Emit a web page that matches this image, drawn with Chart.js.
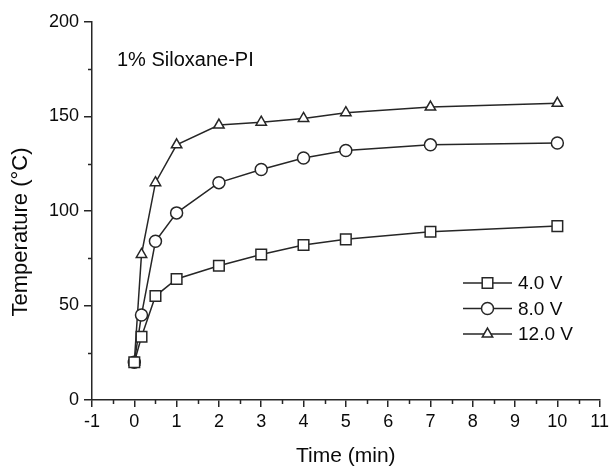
<!DOCTYPE html>
<html>
<head>
<meta charset="utf-8">
<script src="https://cdn.jsdelivr.net/npm/chart.js@4/dist/chart.umd.min.js"></script>
<style>
html,body{margin:0;padding:0;background:#fff;}
#wrap{width:613px;height:469px;position:relative;}
</style>
</head>
<body>
<div id="wrap"><canvas id="c" width="613" height="469"></canvas></div>
<script>
const times = [0, 0.17, 0.5, 1, 2, 3, 4, 5, 7, 10];
const series4V  = [20, 33.5, 55, 64, 71, 77, 82, 85, 89, 92];
const series8V  = [20, 45, 84, 99, 115, 122, 128, 132, 135, 136];
const series12V = [20, 77, 115, 135, 145.5, 147, 149, 152, 155, 157];
const seriesLabels = ['4.0 V', '8.0 V', '12.0 V'];
const markerStyles = ['rect', 'circle', 'triangle'];
const markerRadii = [7.5, 6, 6];
const xTickRange = [-1, 11];
const yTickRange = [0, 200];
const annotationText = '1% Siloxane-PI';
const xTitle = 'Time (min)';
const yTitle = 'Temperature (°C)';

const INK = '#262626';
const TXT = '#0a0a0a';
const FONT = 'Liberation Sans, Arial, sans-serif';

function toPoints(vals){ return vals.map((v,i)=>({x:times[i], y:v})); }

const allSeries = [series4V, series8V, series12V];
const datasets = allSeries.map((s,i)=>({
  label: seriesLabels[i],
  data: toPoints(s),
  borderColor: INK,
  borderWidth: 1.5,
  pointStyle: markerStyles[i],
  pointRadius: markerRadii[i],
  pointBackgroundColor: '#fff',
  pointBorderColor: INK,
  pointBorderWidth: 1.5,
  tension: 0,
  fill: false
}));

function drawMarker(ctx, style, x, y, r){
  ctx.beginPath();
  if (style === 'rect'){
    const s = Math.SQRT1_2 * r;
    ctx.rect(x - s, y - s, 2*s, 2*s);
  } else if (style === 'circle'){
    ctx.arc(x, y, r, 0, Math.PI*2);
  } else {
    let rad = 0;
    ctx.moveTo(x + Math.sin(rad)*r, y - Math.cos(rad)*r);
    rad += 2*Math.PI/3;
    ctx.lineTo(x + Math.sin(rad)*r, y - Math.cos(rad)*r);
    rad += 2*Math.PI/3;
    ctx.lineTo(x + Math.sin(rad)*r, y - Math.cos(rad)*r);
    ctx.closePath();
  }
  ctx.fillStyle = '#fff';
  ctx.fill();
  ctx.stroke();
}

const extras = {
  id: 'extras',
  afterDraw(chart){
    const ctx = chart.ctx;
    const xs = chart.scales.x, ys = chart.scales.y;
    ctx.save();
    ctx.strokeStyle = INK;
    ctx.lineWidth = 1.5;
    // minor ticks
    ctx.beginPath();
    for (let v = xTickRange[0] + 0.5; v < xTickRange[1]; v += 1){
      const px = Math.round(xs.getPixelForValue(v)) + 0.5;
      ctx.moveTo(px, xs.top);
      ctx.lineTo(px, xs.top + 4);
    }
    for (let v = yTickRange[0] + 25; v < yTickRange[1]; v += 50){
      const py = Math.round(ys.getPixelForValue(v)) + 0.5;
      ctx.moveTo(ys.right, py);
      ctx.lineTo(ys.right - 4, py);
    }
    ctx.stroke();
    // y title
    ctx.save();
    ctx.translate(21, 232);
    ctx.rotate(-Math.PI/2);
    ctx.fillStyle = TXT;
    ctx.font = '22px ' + FONT;
    ctx.textAlign = 'center';
    ctx.textBaseline = 'middle';
    ctx.fillText(yTitle, 0, 0);
    ctx.restore();
    // annotation
    ctx.fillStyle = TXT;
    ctx.font = '20px ' + FONT;
    ctx.textBaseline = 'middle';
    ctx.textAlign = 'left';
    ctx.fillText(annotationText, 117, 60);
    // legend
    const lx0 = 463, lx1 = 512, ly0 = 283, dy = 25.5;
    chart.data.datasets.forEach((ds, i)=>{
      const y = ly0 + i*dy;
      ctx.beginPath();
      ctx.moveTo(lx0, y); ctx.lineTo(lx1, y);
      ctx.stroke();
      drawMarker(ctx, ds.pointStyle, (lx0+lx1)/2, y, ds.pointRadius);
      ctx.fillStyle = TXT;
      ctx.font = '19px ' + FONT;
      ctx.fillText(ds.label, 518, y + 1);
    });
    ctx.restore();
  }
};

new Chart(document.getElementById('c'), {
  type: 'line',
  data: { datasets },
  options: {
    responsive: false,
    animation: false,
    devicePixelRatio: 1,
    layout: { padding: { top: 22, right: 10, left: 0, bottom: 0 } },
    plugins: { legend: { display: false }, tooltip: { enabled: false } },
    scales: {
      x: {
        type: 'linear',
        min: xTickRange[0], max: xTickRange[1],
        ticks: { stepSize: 1, color: TXT, font: { family: FONT, size: 18 }, padding: 4, maxRotation: 0 },
        grid: { drawOnChartArea: false, drawTicks: true, tickLength: 7, color: INK, lineWidth: 1.5 },
        border: { display: true, color: INK, width: 1.5 },
        title: { display: true, text: xTitle, color: TXT, font: { family: FONT, size: 21 }, padding: { top: 0, bottom: 0 } },
        afterFit(s){ s.height = 69; }
      },
      y: {
        type: 'linear',
        min: yTickRange[0], max: yTickRange[1],
        ticks: { stepSize: 50, color: TXT, font: { family: FONT, size: 18 }, padding: 5 },
        grid: { drawOnChartArea: false, drawTicks: true, tickLength: 8, color: INK, lineWidth: 1.5 },
        border: { display: true, color: INK, width: 1.5 },
        title: { display: false },
        afterFit(s){ s.width = 92; }
      }
    }
  },
  plugins: [extras]
});
</script>
</body>
</html>
